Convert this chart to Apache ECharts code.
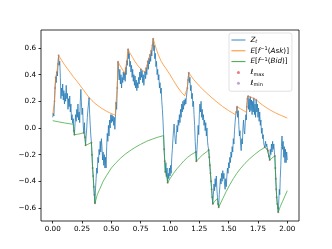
<!DOCTYPE html>
<html><head><meta charset="utf-8">
<script src="https://cdn.jsdelivr.net/npm/echarts@6/dist/echarts.min.js"></script>
<style>html,body{margin:0;padding:0;background:#fff}#c{width:332px;height:249px}</style>
</head><body><div id="c"></div>
<script>
// Z_t path (time, value)
const zT = [
0,0.005,0.01,0.015,0.02,0.025,0.03,0.035,0.04,0.045,
0.05,0.055,0.06,0.065,0.07,0.075,0.08,0.085,0.09,0.095,
0.10,0.105,0.11,0.115,0.12,0.125,0.13,0.135,0.14,0.145,
0.15,0.155,0.16,0.165,0.17,0.175,0.18,0.185,0.19,0.195,
0.20,0.205,0.21,0.215,0.22,0.225,0.23,0.235,0.24,0.245,
0.25,0.255,0.26,0.265,0.27,0.275,0.28,0.285,0.29,0.295,
0.30,0.305,0.31,0.315,0.32,0.325,0.33,0.335,0.34,0.345,
0.35,0.355,0.36,0.365,0.37,0.375,0.38,0.385,0.39,0.395,
0.40,0.405,0.41,0.415,0.42,0.425,0.43,0.435,0.44,0.445,
0.45,0.455,0.46,0.465,0.47,0.475,0.48,0.485,0.49,0.495,
0.50,0.505,0.51,0.515,0.52,0.525,0.53,0.535,0.54,0.545,
0.55,0.557,0.562,0.567,0.572,0.577,0.582,0.587,0.592,0.597,
0.602,0.607,0.614,0.618,0.622,0.626,0.631,0.636,0.643,0.648,
0.652,0.657,0.662,0.667,0.672,0.677,0.682,0.687,0.692,0.697,
0.702,0.707,0.712,0.717,0.722,0.727,0.732,0.737,0.742,0.747,
0.752,0.757,0.762,0.767,0.772,0.777,0.782,0.787,0.792,0.797,
0.802,0.807,0.811,0.815,0.82,0.825,0.83,0.835,0.84,0.845,
0.85,0.857,0.862,0.866,0.87,0.875,0.88,0.885,0.89,0.895,
0.90,0.905,0.91,0.915,0.92,0.925,0.93,0.935,0.94,0.945,
0.95,0.955,0.96,0.965,0.97,0.975,0.98,0.985,0.99,0.995,
1.00,1.005,1.01,1.015,1.02,1.025,1.03,1.035,1.04,1.045,
1.05,1.055,1.06,1.065,1.07,1.075,1.08,1.085,1.09,1.095,
1.10,1.105,1.11,1.115,1.12,1.125,1.13,1.135,1.14,
1.148,1.154,1.16,1.165,1.17,1.175,1.18,1.185,1.19,1.195,
1.20,1.205,1.21,1.215,1.22,1.225,1.23,1.235,1.24,1.245,
1.25,1.255,1.26,1.265,1.27,1.275,1.28,1.285,1.29,1.295,
1.30,1.305,1.31,1.315,1.32,1.325,1.33,1.335,1.34,1.345,
1.35,1.355,1.36,1.365,1.37,1.375,1.38,1.385,1.39,1.395,
1.40,1.405,1.41,1.415,1.42,1.425,1.43,1.435,1.44,1.445,
1.45,1.455,1.46,1.465,1.47,1.475,1.48,1.485,1.49,1.495,
1.50,1.505,1.51,1.515,1.52,1.525,1.53,1.535,1.54,1.545,
1.55,1.555,1.56,1.565,1.572,1.577,1.582,1.587,1.592,1.597,
1.602,1.607,1.612,1.617,1.622,1.627,1.632,1.637,1.642,1.647,
1.651,1.655,1.66,1.666,1.67,1.675,1.68,1.685,1.69,1.695,
1.70,1.705,1.71,1.715,1.72,1.725,1.73,1.735,1.74,1.745,
1.75,1.755,1.76,1.765,1.77,1.775,1.78,1.785,1.79,1.795,
1.80,1.808,1.815,1.82,1.825,1.83,1.837,1.843,1.85,1.855,
1.86,1.865,1.87,1.875,1.88,1.885,1.89,1.894,1.898,1.902,
1.906,1.91,1.915,1.92,1.923,1.928,1.932,1.936,1.94,1.945,
1.95,1.955,1.96,1.965,1.97,1.975,1.98,1.985,1.99,1.995,2.00
];
const zV = [
0.08,0.11,0.09,0.20,0.30,0.38,0.34,0.42,0.39,0.48,
0.545,0.47,0.50,0.38,0.22,0.30,0.24,0.33,0.21,0.28,
0.18,0.26,0.20,0.32,0.22,0.26,0.14,0.22,0.16,0.24,
0.12,0.18,0.06,0.10,0.035,0.07,-0.02,-0.05,0.03,0.10,
0.05,0.14,0.08,0.18,0.06,0.12,0.04,0.20,0.29,0.18,
0.10,0.15,0.02,-0.035,0.04,-0.07,-0.13,-0.06,0.00,0.08,
0.14,0.18,0.225,0.10,0.02,-0.06,-0.11,-0.20,-0.30,-0.36,
-0.44,-0.50,-0.565,-0.45,-0.38,-0.30,-0.34,-0.22,-0.26,-0.16,
-0.20,-0.10,-0.18,-0.08,-0.14,-0.24,-0.18,-0.28,-0.20,-0.30,
-0.22,-0.30,-0.14,-0.04,-0.10,0.02,-0.06,0.06,0.00,0.10,
0.04,0.10,0.05,0.09,0.02,0.08,-0.01,0.09,0.19,0.14,
0.30,0.497,0.42,0.36,0.44,0.33,0.40,0.30,0.38,0.34,
0.42,0.36,0.41,0.35,0.45,0.40,0.50,0.47,0.59,0.52,
0.56,0.46,0.50,0.42,0.47,0.38,0.44,0.35,0.40,0.32,
0.39,0.30,0.36,0.28,0.34,0.30,0.38,0.33,0.42,0.36,
0.44,0.38,0.43,0.34,0.40,0.32,0.38,0.42,0.37,0.45,
0.40,0.47,0.50,0.44,0.52,0.48,0.55,0.50,0.58,0.54,
0.62,0.67,0.58,0.62,0.52,0.56,0.46,0.50,0.40,0.44,
0.36,0.40,0.30,0.34,0.26,0.30,0.20,0.14,0.06,-0.04,
-0.16,-0.25,-0.33,-0.26,-0.36,-0.30,-0.41,-0.34,-0.38,-0.30,
-0.36,-0.28,-0.34,-0.22,-0.16,-0.08,-0.02,0.03,-0.04,-0.10,
-0.12,-0.05,0.02,-0.03,0.06,0.02,0.10,0.04,0.14,0.08,
0.18,0.12,0.20,0.14,0.21,0.17,0.22,0.18,0.23,
0.30,0.36,0.415,0.34,0.38,0.28,0.32,0.22,0.26,0.16,
0.20,0.10,0.02,-0.10,-0.18,-0.25,-0.16,-0.08,0.02,-0.05,
0.10,0.18,0.12,0.20,0.08,0.14,0.06,0.10,0.02,0.06,
-0.02,0.04,-0.06,0.00,-0.10,-0.14,-0.165,-0.22,-0.28,-0.34,
-0.40,-0.46,-0.52,-0.57,-0.50,-0.42,-0.47,-0.38,-0.44,-0.36,
-0.46,-0.52,-0.57,-0.595,-0.50,-0.44,-0.38,-0.42,-0.34,-0.40,
-0.32,-0.38,-0.34,-0.42,-0.46,-0.38,-0.44,-0.36,-0.30,-0.34,
-0.26,-0.30,-0.22,-0.26,-0.18,-0.22,-0.14,-0.18,-0.08,-0.12,
-0.02,0.04,0.09,0.12,0.16,0.08,0.13,0.02,-0.06,-0.02,
-0.12,-0.17,-0.08,-0.12,0.00,0.06,-0.02,-0.045,0.04,0.10,
0.06,0.16,0.22,0.24,0.14,0.22,0.12,0.232,0.13,0.21,
0.10,0.20,0.12,0.222,0.10,0.18,0.08,0.212,0.12,0.18,
0.08,0.15,0.05,0.12,0.02,0.06,-0.04,0.00,-0.08,-0.05,
-0.12,-0.145,-0.10,-0.14,-0.12,-0.16,-0.17,-0.21,-0.24,-0.16,
-0.20,-0.12,-0.18,-0.10,-0.16,-0.12,-0.18,-0.21,-0.30,-0.38,
-0.46,-0.52,-0.57,-0.60,-0.632,-0.54,-0.46,-0.50,-0.38,-0.28,
-0.14,-0.06,-0.16,-0.10,-0.22,-0.14,-0.26,-0.16,-0.26,-0.18,-0.24
];
// E[f^-1(Ask)]
const askT = [
0,0.005,0.01,0.015,0.02,0.025,0.033,0.035,0.043,0.045,
0.05,0.075,0.1,0.125,0.15,0.175,0.2,0.225,0.25,0.275,
0.3,0.31,0.335,0.36,0.385,0.41,0.435,0.46,0.485,0.51,
0.535,0.54,0.545,0.55,0.557,0.57,0.585,0.6,0.614,0.622,
0.626,0.631,0.636,0.643,0.66,0.68,0.7,0.72,0.743,0.752,
0.765,0.787,0.797,0.802,0.807,0.811,0.815,0.82,0.825,0.83,
0.835,0.84,0.845,0.85,0.857,0.87,0.88,0.9,0.925,0.95,
0.966,1.0,1.03,1.07,1.1,1.125,1.14,1.148,1.154,1.16,
1.2,1.25,1.3,1.35,1.4,1.45,1.5,1.53,1.557,1.565,
1.572,1.6,1.625,1.651,1.655,1.66,1.666,1.685,1.7,1.715,
1.735,1.76,1.8,1.85,1.9,1.95,2.0
];
const askV = [
0.10,0.11,0.11,0.20,0.30,0.38,0.375,0.42,0.415,0.48,
0.545,0.51,0.475,0.445,0.415,0.385,0.358,0.33,0.30,0.27,
0.24,0.228,0.205,0.185,0.168,0.152,0.138,0.125,0.114,0.105,
0.097,0.19,0.188,0.30,0.497,0.475,0.452,0.43,0.41,0.45,
0.447,0.50,0.497,0.59,0.56,0.53,0.50,0.475,0.45,0.443,
0.432,0.42,0.45,0.447,0.47,0.50,0.497,0.52,0.517,0.55,
0.546,0.58,0.576,0.62,0.67,0.63,0.60,0.55,0.50,0.465,
0.445,0.40,0.355,0.30,0.265,0.242,0.232,0.30,0.36,0.415,
0.365,0.315,0.272,0.232,0.195,0.16,0.13,0.115,0.10,0.12,
0.16,0.145,0.132,0.118,0.16,0.22,0.24,0.232,0.225,0.222,
0.212,0.192,0.165,0.137,0.113,0.093,0.075
];
// E[f^-1(Bid)]
const bidT = [
0,0.05,0.1,0.15,0.175,0.18,0.185,0.21,0.24,0.265,
0.275,0.28,0.3,0.33,0.335,0.34,0.345,0.35,0.355,0.36,
0.38,0.4,0.43,0.46,0.5,0.54,0.58,0.62,0.66,0.7,
0.75,0.8,0.85,0.9,0.945,0.95,0.955,0.96,0.97,0.98,
1.0,1.03,1.06,1.09,1.12,1.15,1.18,1.22,1.225,1.25,
1.28,1.31,1.33,1.335,1.34,1.345,1.35,1.355,1.36,1.365,
1.38,1.395,1.405,1.41,1.415,1.45,1.48,1.51,1.54,1.57,
1.6,1.64,1.68,1.72,1.76,1.808,1.83,1.837,1.843,1.85,
1.87,1.894,1.898,1.902,1.906,1.91,1.915,1.92,1.923,1.94,
1.96,1.98,2.0
];
const bidV = [
0.055,0.046,0.038,0.031,0.028,-0.02,-0.05,-0.047,-0.042,-0.035,
-0.07,-0.13,-0.122,-0.11,-0.20,-0.30,-0.36,-0.44,-0.50,-0.565,
-0.50,-0.46,-0.40,-0.355,-0.30,-0.26,-0.225,-0.195,-0.17,-0.147,
-0.122,-0.10,-0.083,-0.068,-0.057,-0.16,-0.25,-0.33,-0.36,-0.41,
-0.38,-0.34,-0.305,-0.275,-0.245,-0.22,-0.20,-0.18,-0.25,-0.225,
-0.20,-0.18,-0.165,-0.22,-0.28,-0.34,-0.40,-0.46,-0.52,-0.57,
-0.55,-0.535,-0.528,-0.57,-0.595,-0.53,-0.475,-0.425,-0.38,-0.34,
-0.305,-0.265,-0.23,-0.20,-0.172,-0.145,-0.16,-0.17,-0.21,-0.24,
-0.225,-0.21,-0.30,-0.38,-0.46,-0.52,-0.57,-0.60,-0.632,-0.59,
-0.55,-0.51,-0.47
];
// l_max marks
const lmaxT = [0.18,0.185,0.265,0.275,0.28,0.33,0.335,0.34,0.345,0.35,0.355,0.36,
0.95,0.955,0.96,0.97,0.98,1.22,1.225,1.33,1.335,1.34,1.345,1.35,1.355,1.36,1.365,
1.41,1.415,1.808,1.83,1.837,1.843,1.85,1.894,1.898,1.902,1.906,1.91,1.915,1.92,1.923];
const lmaxV = [-0.02,-0.05,-0.035,-0.07,-0.13,-0.11,-0.20,-0.30,-0.36,-0.44,-0.50,-0.565,
-0.16,-0.25,-0.33,-0.36,-0.41,-0.18,-0.25,-0.165,-0.22,-0.28,-0.34,-0.40,-0.46,-0.52,-0.57,
-0.57,-0.595,-0.145,-0.16,-0.17,-0.21,-0.24,-0.21,-0.30,-0.38,-0.46,-0.52,-0.57,-0.60,-0.632];
// l_min marks
const lminT = [0.015,0.02,0.025,0.035,0.045,0.05,0.31,0.54,0.55,0.557,0.614,0.622,0.631,0.643,
0.752,0.787,0.797,0.807,0.811,0.82,0.83,0.84,0.85,0.857,1.148,1.154,1.16,1.565,1.572,
1.655,1.66,1.666,1.685,1.715,1.735];
const lminV = [0.20,0.30,0.38,0.42,0.48,0.545,0.225,0.19,0.30,0.497,0.41,0.45,0.50,0.59,
0.44,0.42,0.45,0.47,0.50,0.52,0.55,0.58,0.62,0.67,0.30,0.36,0.415,0.12,0.16,
0.16,0.22,0.24,0.232,0.222,0.212];

const xTicks = [0, 0.25, 0.5, 0.75, 1, 1.25, 1.5, 1.75, 2];
const yTicks = [-0.6, -0.4, -0.2, 0, 0.2, 0.4, 0.6];

function pairs(t, v) { return t.map((x, i) => [x, v[i]]); }

const F = 'DejaVu Sans';
const FS = 7.2;
const legendLabels = {
  Zt: '{i|Z}{sb|t}',
  ask: '{i|E}{n|[}{i|f}{sp|\u22121}{n|(}{i|Ask}{n|)]}',
  bid: '{i|E}{n|[}{i|f}{sp|\u22121}{n|(}{i|Bid}{n|)]}',
  lmax: '{i|\u2113}{su|max}',
  lmin: '{i|\u2113}{su|min}'
};

const chart = echarts.init(document.getElementById('c'), null, {renderer: 'canvas'});
chart.setOption({
  animation: false,
  backgroundColor: '#fff',
  grid: {left: 41, top: 30, right: 33, bottom: 28, show: true, borderColor: '#000', borderWidth: 0.8, backgroundColor: 'transparent'},
  xAxis: {
    type: 'value', min: -0.1, max: 2.1,
    axisLine: {show: false, onZero: false}, splitLine: {show: false},
    axisTick: {show: true, customValues: xTicks, length: 2.5, inside: false, lineStyle: {color: '#000', width: 0.8}},
    axisLabel: {customValues: xTicks, formatter: v => v.toFixed(2), fontFamily: F, fontSize: FS, color: '#000', margin: 5}
  },
  yAxis: {
    type: 'value', min: -0.6975, max: 0.735,
    axisLine: {show: false, onZero: false}, splitLine: {show: false},
    axisTick: {show: true, customValues: yTicks, length: 2.5, inside: false, lineStyle: {color: '#000', width: 0.8}},
    axisLabel: {customValues: yTicks, formatter: v => (v < 0 ? '\u2212' : '') + Math.abs(v).toFixed(1), fontFamily: F, fontSize: FS, color: '#000', margin: 5}
  },
  legend: {
    orient: 'vertical', left: 229, top: 33,
    padding: [2.5, 3, 3.5, 2], itemWidth: 14, itemHeight: 3, itemGap: 1.8,
    backgroundColor: 'rgba(255,255,255,0.8)', borderColor: '#cccccc', borderWidth: 0.6, borderRadius: 2,
    data: [
      {name: 'Zt', lineStyle: {width: 0.9}, itemStyle: {opacity: 0}},
      {name: 'ask', lineStyle: {width: 0.9}, itemStyle: {opacity: 0}},
      {name: 'bid', lineStyle: {width: 0.9}, itemStyle: {opacity: 0}},
      {name: 'lmax', icon: 'circle'},
      {name: 'lmin', icon: 'circle'}
    ],
    formatter: n => legendLabels[n],
    textStyle: {
      fontFamily: F, fontSize: FS, color: '#000', lineHeight: 9,
      rich: {
        n: {fontFamily: F, fontSize: FS, lineHeight: 9, color: '#000'},
        i: {fontFamily: F, fontStyle: 'italic', fontSize: FS, lineHeight: 9, color: '#000'},
        sb: {fontFamily: F, fontStyle: 'italic', fontSize: 5, lineHeight: 4, verticalAlign: 'bottom', color: '#000'},
        su: {fontFamily: F, fontSize: 5, lineHeight: 4, verticalAlign: 'bottom', color: '#000'},
        sp: {fontFamily: F, fontSize: 5, lineHeight: 4.5, verticalAlign: 'top', color: '#000'}
      }
    }
  },
  series: [
    {name: 'Zt', type: 'line', data: pairs(zT, zV), showSymbol: false, symbol: 'none', lineStyle: {color: '#1f77b4', width: 0.75}, itemStyle: {color: '#1f77b4'}},
    {name: 'ask', type: 'line', data: pairs(askT, askV), showSymbol: false, symbol: 'none', lineStyle: {color: '#ff7f0e', width: 0.7}, itemStyle: {color: '#ff7f0e'}},
    {name: 'bid', type: 'line', data: pairs(bidT, bidV), showSymbol: false, symbol: 'none', lineStyle: {color: '#2ca02c', width: 0.7}, itemStyle: {color: '#2ca02c'}},
    {name: 'lmax', type: 'scatter', data: pairs(lmaxT, lmaxV), symbol: 'circle', symbolSize: 2, itemStyle: {color: '#d62728', opacity: 0.6}},
    {name: 'lmin', type: 'scatter', data: pairs(lminT, lminV), symbol: 'circle', symbolSize: 2, itemStyle: {color: '#9467bd', opacity: 0.6}}
  ]
});
</script></body></html>
